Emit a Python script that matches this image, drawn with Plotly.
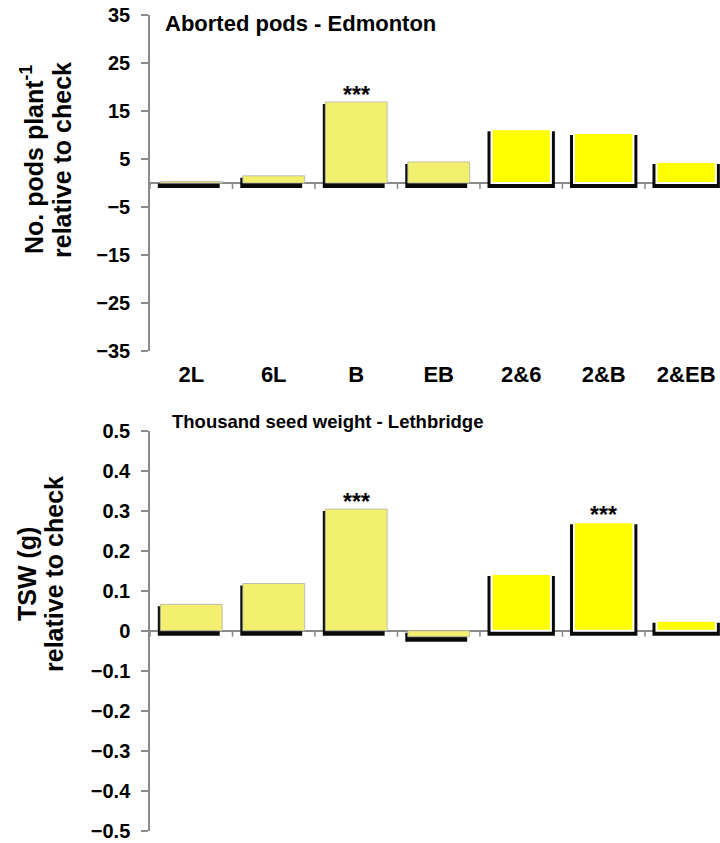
import plotly.graph_objects as go

# ---- data ----
categories = ["2L", "6L", "B", "EB", "2&6", "2&B", "2&EB"]
aborted_pods = [0.3, 1.5, 16.9, 4.4, 11.2, 10.4, 4.4]
aborted_sig = ["", "", "***", "", "", "", ""]
tsw = [0.066, 0.118, 0.304, -0.015, 0.142, 0.271, 0.025]
tsw_sig = ["", "", "***", "", "", "***", ""]
pods_ticks = [-35, -25, -15, -5, 5, 15, 25, 35]
tsw_ticks = [-0.5, -0.4, -0.3, -0.2, -0.1, 0, 0.1, 0.2, 0.3, 0.4, 0.5]

# ---- styling / geometry ----
W, H = 720, 843
FAMILY = "Liberation Sans, Arial, sans-serif"
AXIS_GREY = "#8a8a8a"
LIGHT_YELLOW = "#F2F06E"
YELLOW = "#FFFF00"
n = len(categories)
xs = list(range(n))
x_range = [-0.5, 6.41]
x_dom = [150 / W, 1.0]
top_dom = [1 - 351 / H, 1 - 15 / H]
bot_dom = [1 - 831 / H, 1 - 430.5 / H]
top_range = [-35, 35]
bot_range = [-0.5, 0.5]


def bold(size):
    return dict(family=FAMILY, size=size, color="black", weight="bold")


px_x = (x_range[1] - x_range[0]) / ((x_dom[1] - x_dom[0]) * W)  # x units per px


def px_y(rng, dom):
    return (rng[1] - rng[0]) / ((dom[1] - dom[0]) * H)


# first four bars pale, last three (combinations) bright
colors = [LIGHT_YELLOW] * 4 + [YELLOW] * 3
widths = [0.75] * 4 + [0.72] * 3


def panel(fig, values, sig, xaxis, yaxis, rng, dom):
    uy = px_y(rng, dom)
    depth = 5 * uy
    inset = 2 * uy
    # drop shadow behind each bar
    sh_base, sh_h, sh_w, sh_off = [], [], [], []
    for v, w, c in zip(values, widths, colors):
        b = min(v, 0) - depth
        top = max(v, 0) - inset
        sh_base.append(b)
        sh_h.append(top - b)
        if c == YELLOW:
            sw = w + 8 * px_x
            sh_w.append(sw)
            sh_off.append(-sw / 2)
        else:
            sh_w.append(w)
            sh_off.append(-w / 2 - 2.5 * px_x)
    fig.add_trace(go.Bar(
        x=xs, y=sh_h, base=sh_base, width=sh_w, offset=sh_off,
        marker=dict(color="#0a0a0a", line=dict(width=0)),
        xaxis=xaxis, yaxis=yaxis, hoverinfo="skip", showlegend=False))
    fig.add_trace(go.Bar(
        x=xs, y=values, width=widths, offset=[-w / 2 for w in widths],
        marker=dict(color=colors,
                    line=dict(color=["#b0b0b0"] * 4 + ["white"] * 3,
                              width=[0.8] * 4 + [2] * 3)),
        xaxis=xaxis, yaxis=yaxis, showlegend=False))
    # significance stars
    for i, (v, s) in enumerate(zip(values, sig)):
        if s:
            fig.add_annotation(x=i, y=max(v, 0), xref=xaxis, yref=yaxis,
                               text=s, showarrow=False, yanchor="bottom",
                               yshift=-8, font=bold(23))
    # small tick marks under the zero line at category boundaries
    for k in range(n + 1):
        fig.add_shape(type="line", xref=xaxis, yref=yaxis,
                      x0=k - 0.5, x1=k - 0.5, ysizemode="pixel", yanchor=0,
                      y0=0, y1=-6, line=dict(color=AXIS_GREY, width=1.5), layer="below")


fig = go.Figure()
panel(fig, aborted_pods, aborted_sig, "x", "y", top_range, top_dom)
panel(fig, tsw, tsw_sig, "x2", "y2", bot_range, bot_dom)

yaxis_common = dict(
    showline=True, linecolor=AXIS_GREY, linewidth=1.5,
    ticks="outside", ticklen=7, tickcolor=AXIS_GREY, tickwidth=1.5,
    showgrid=False, zeroline=True, zerolinecolor=AXIS_GREY, zerolinewidth=1.5,
    tickfont=bold(20), ticklabelstandoff=7, automargin=False, fixedrange=True,
)

fig.update_layout(
    width=W, height=H,
    margin=dict(l=0, r=0, t=0, b=0, pad=0),
    paper_bgcolor="white", plot_bgcolor="white",
    barmode="overlay",
    font=dict(family=FAMILY, color="black"),
    xaxis=dict(domain=x_dom, range=x_range, anchor="y", tickmode="array",
               tickvals=xs, ticktext=categories, showline=False, ticks="",
               showgrid=False, zeroline=False, automargin=False,
               tickfont=bold(22), ticklabelstandoff=8),
    yaxis=dict(domain=top_dom, range=top_range, tickmode="array",
               tickvals=pods_ticks, anchor="x", **yaxis_common),
    xaxis2=dict(domain=x_dom, range=x_range, anchor="y2", showticklabels=False,
                showline=False, ticks="", showgrid=False, zeroline=False,
                automargin=False),
    yaxis2=dict(domain=bot_dom, range=bot_range, tickmode="array",
                tickvals=tsw_ticks, ticktext=[f"{t:g}".replace("-", "\u2212") for t in tsw_ticks],
                anchor="x2", **yaxis_common),
)

# panel titles
fig.add_annotation(text="Aborted pods - Edmonton", xref="paper", yref="paper",
                   x=163 / W, y=1 - 23 / H, xanchor="left", yanchor="middle",
                   showarrow=False, font=bold(22))
fig.add_annotation(text="Thousand seed weight - Lethbridge", xref="paper", yref="paper",
                   x=170 / W, y=1 - 421 / H, xanchor="left", yanchor="middle",
                   showarrow=False, font=bold(18.5))


# y-axis titles
def ytitle(text, cx, cy):
    fig.add_annotation(text=text, xref="paper", yref="paper", x=cx / W, y=1 - cy / H,
                       xanchor="center", yanchor="middle", textangle=-90,
                       showarrow=False, font=bold(25))


ytitle("No. pods plant<sup>-1</sup>", 32, 160)
ytitle("relative to check", 62, 160)
ytitle("TSW (g)", 27, 574)
ytitle("relative to check", 54, 574)

fig.write_html("out.html")
